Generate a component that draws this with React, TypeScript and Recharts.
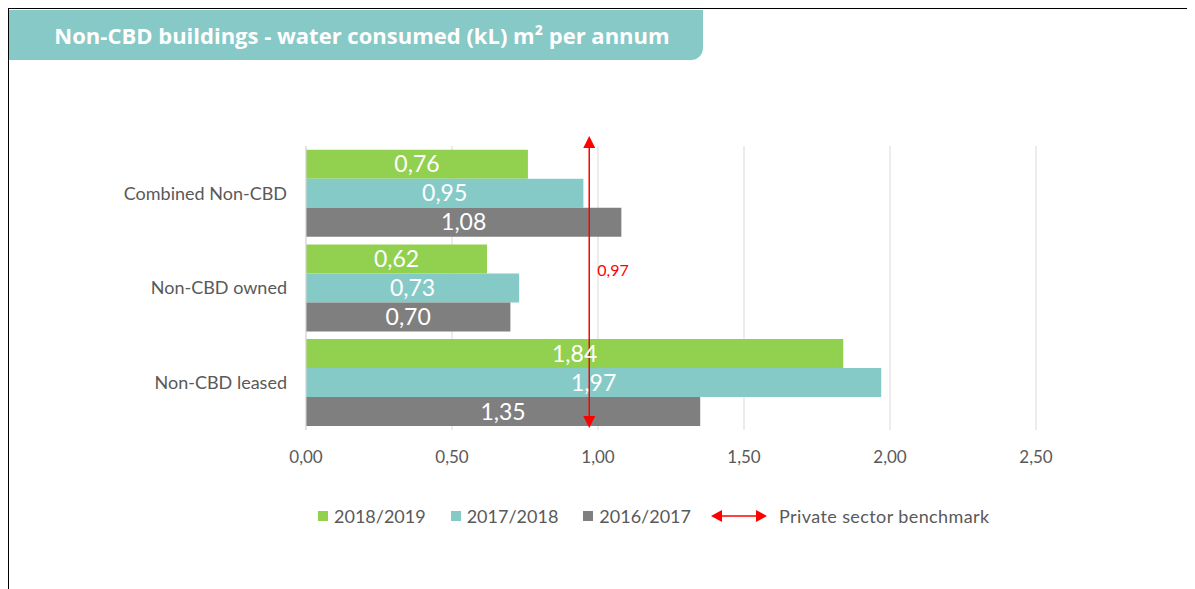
import React from "react";
import {
  BarChart,
  Bar,
  XAxis,
  YAxis,
  CartesianGrid,
  LabelList,
  ReferenceLine,
} from "recharts";

const categories = ["Combined Non-CBD", "Non-CBD owned", "Non-CBD leased"];
const series2018_2019 = [0.76, 0.62, 1.84];
const series2017_2018 = [0.95, 0.73, 1.97];
const series2016_2017 = [1.08, 0.7, 1.35];
const seriesNames = ["2018/2019", "2017/2018", "2016/2017"];
const seriesKeys = ["s1819", "s1718", "s1617"];
const seriesColors = ["#92D050", "#86CAC8", "#7F7F7F"];
const xTicks = [0, 0.5, 1, 1.5, 2, 2.5];
const benchmark = 0.97;
const benchmarkLabel = "Private sector benchmark";
const title = "Non-CBD buildings - water consumed (kL) m² per annum";

const data = categories.map((name, i) => ({
  name,
  s1819: series2018_2019[i],
  s1718: series2017_2018[i],
  s1617: series2016_2017[i],
}));

const fmt = (v: any) => Number(v).toFixed(2).replace(".", ",");

const RED = "#FF0000";
const TEXT = "#595959";
const FONT = "Lato, 'Open Sans', sans-serif";

const BenchmarkShape = (props: any) => {
  const { x1, y1, x2, y2 } = props;
  const top = Math.min(y1, y2) - 10;
  const bottom = Math.max(y1, y2) - 2;
  const x = x1;
  const ah = 12;
  const aw = 6;
  return (
    <g>
      <line x1={x} y1={top + ah - 1} x2={x2} y2={bottom - ah + 1} stroke={RED} strokeWidth={1.5} />
      <polygon points={`${x},${top} ${x - aw},${top + ah} ${x + aw},${top + ah}`} fill={RED} />
      <polygon points={`${x},${bottom} ${x - aw},${bottom - ah} ${x + aw},${bottom - ah}`} fill={RED} />
      <text
        x={x + 8}
        y={top + (bottom - top) * 0.465}
        fill={RED}
        fontSize={16}
        fontFamily={FONT}
        dominantBaseline="middle"
      >
        {fmt(benchmark)}
      </text>
    </g>
  );
};

export default function App() {
  return (
    <div
      style={{
        position: "relative",
        width: 1185,
        height: 600,
        borderTop: "1px solid #000",
        borderLeft: "1px solid #000",
        borderRight: "1px solid #000",
        boxSizing: "border-box",
        background: "#fff",
        overflow: "hidden",
      }}
    >
      <div
        style={{
          position: "absolute",
          left: 0,
          top: 1,
          width: 694,
          height: 50,
          background: "#87C9C6",
          borderBottomRightRadius: 12,
          color: "#fff",
          fontFamily: "'Open Sans', sans-serif",
          fontWeight: 700,
          fontSize: 22,
          lineHeight: "50px",
          textAlign: "center",
          paddingLeft: 12,
          boxSizing: "border-box",
          whiteSpace: "nowrap",
        }}
      >
        {title}
      </div>
      <div style={{ position: "absolute", left: 0, top: 0 }}>
        <BarChart
          width={1180}
          height={570}
          data={data}
          layout="vertical"
          margin={{ top: 137, right: 153, bottom: 119, left: 0 }}
          barCategoryGap="4%"
          barGap={0}
        >
          <CartesianGrid horizontal={false} stroke="#D9D9D9" />
          <XAxis
            type="number"
            domain={[0, 2.5]}
            ticks={xTicks}
            tickFormatter={fmt}
            axisLine={false}
            tickLine={false}
            tickSize={0}
            tickMargin={21}
            height={30}
            tick={{ fill: TEXT, fontSize: 17, fontFamily: FONT }}
          />
          <YAxis
            type="category"
            dataKey="name"
            width={297}
            axisLine={{ stroke: "#D9D9D9" }}
            tickLine={false}
            tickSize={0}
            tickMargin={19}
            tick={{ fill: TEXT, fontSize: 18, fontFamily: FONT }}
          />
          {seriesKeys.map((k, i) => (
            <Bar key={k} dataKey={k} name={seriesNames[i]} fill={seriesColors[i]} isAnimationActive={false}>
              <LabelList
                dataKey={k}
                position="center"
                formatter={fmt}
                fill="#FFFFFF"
                fontSize={23}
                fontFamily={FONT}
              />
            </Bar>
          ))}
          <ReferenceLine x={benchmark} stroke={RED} shape={BenchmarkShape} ifOverflow="visible" />
        </BarChart>
      </div>
      <div
        style={{
          position: "absolute",
          left: 309,
          top: 496,
          display: "flex",
          alignItems: "center",
          fontFamily: FONT,
          fontSize: 18,
          color: TEXT,
          whiteSpace: "nowrap",
        }}
      >
        {seriesNames.map((n, i) => (
          <div
            key={n}
            style={{
              display: "flex",
              alignItems: "center",
              marginRight: i === seriesNames.length - 1 ? 20 : 25,
            }}
          >
            <span
              style={{
                display: "inline-block",
                width: 10,
                height: 10,
                background: seriesColors[i],
                marginRight: 6,
              }}
            />
            <span>{n}</span>
          </div>
        ))}
        <div style={{ display: "flex", alignItems: "center" }}>
          <svg width={56} height={14} style={{ marginRight: 12 }}>
            <line x1={10} y1={7} x2={46} y2={7} stroke={RED} strokeWidth={1.5} />
            <polygon points="0,7 11,1 11,13" fill={RED} />
            <polygon points="56,7 45,1 45,13" fill={RED} />
          </svg>
          <span style={{ letterSpacing: 0.4 }}>{benchmarkLabel}</span>
        </div>
      </div>
    </div>
  );
}
